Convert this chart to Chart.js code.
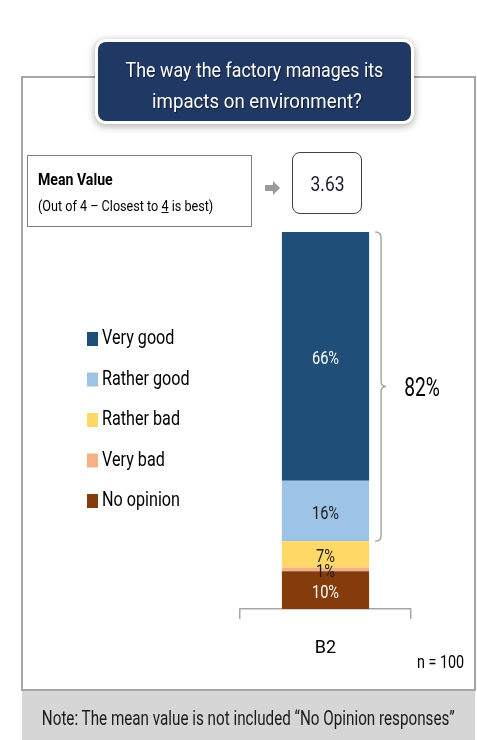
<!DOCTYPE html>
<html><head><meta charset="utf-8">
<script src="https://cdn.jsdelivr.net/npm/chart.js@4/dist/chart.umd.min.js"></script>
<style>
html,body{margin:0;padding:0;background:#fff;}
body{width:477px;height:740px;position:relative;overflow:hidden;font-family:Roboto,"Liberation Sans",sans-serif;color:#000;}
#frame{position:absolute;left:21px;top:76px;width:455px;height:615px;border:2px solid #a6a6a6;box-sizing:border-box;}
#note{position:absolute;left:22px;top:691px;width:453px;height:49px;background:#d6d6d6;}
#title{position:absolute;left:98px;top:42px;width:313px;height:79px;background:#203864;border-radius:8px;box-shadow:0 0 0 3px #fff,0 2px 7px 4px rgba(0,0,0,0.28);z-index:3;}
#mean{position:absolute;left:27px;top:155px;width:225px;height:72px;border:1.5px solid #7f7f7f;box-sizing:border-box;background:#fff;}
#arrow{position:absolute;left:265px;top:185px;width:8px;height:6px;background:#9a9a9a;}
#arrow:after{content:"";position:absolute;left:8px;top:-4px;border-left:7px solid #9a9a9a;border-top:7px solid transparent;border-bottom:7px solid transparent;}
#meanbox{position:absolute;left:292px;top:152px;width:70px;height:62px;border:1.5px solid #404040;border-radius:8px;box-sizing:border-box;background:#fff;}
.t{position:absolute;white-space:nowrap;line-height:1;display:inline-block;}
#c{position:absolute;left:0;top:0;z-index:2;}
</style></head>
<body>
<div id="frame"></div>
<div id="title"></div>
<div id="mean"></div>
<div id="arrow"></div>
<div id="meanbox"></div>
<div id="note"></div>
<div class="t" data-cx="254" data-cy="70" data-w="258" style="font-size:21px;color:#fff;z-index:4;text-shadow:1px 1px 1px rgba(0,0,0,.5)">The way the factory manages its</div>
<div class="t" data-cx="257" data-cy="101" data-w="210" style="font-size:21px;color:#fff;z-index:4;text-shadow:1px 1px 1px rgba(0,0,0,.5)">impacts on environment?</div>
<div class="t" data-lx="38" data-cy="180" data-w="75" style="font-size:16px;font-weight:bold;">Mean Value</div>
<div class="t" data-lx="38" data-cy="206" data-w="175" style="font-size:14px;">(Out of 4 – Closest to <u>4</u> is best)</div>
<div class="t" id="meanval" data-cx="327" data-cy="184" data-w="34" style="font-size:21px;color:#1a1a2a;"></div>
<div class="t" id="n" data-lx="417" data-cy="662" data-w="47" style="font-size:18px;"></div>
<div class="t" data-cx="248" data-cy="718" data-w="413" style="font-size:20px;color:#1a1a1a;z-index:4;">Note: The mean value is not included “No Opinion responses”</div>
<canvas id="c" width="477" height="740"></canvas>
<script>
// ---- data ----
const categories = ['B2'];
const seriesNames = ['No opinion', 'Very bad', 'Rather bad', 'Rather good', 'Very good'];
const noOpinion = [10];
const veryBad = [1];
const ratherBad = [7];
const ratherGood = [16];
const veryGood = [66];
const meanValue = 3.63;
const sampleSize = 100;
const yTicks = [0, 100];

// ---- style ----
const FONT = 'Roboto, "Liberation Sans", sans-serif';
const SX = 0.77; // horizontal condensation for canvas text
const seriesColors = ['#843c0c', '#f4b183', '#ffd966', '#9dc3e6', '#1f4e79'];
const labelColors = ['#ffffff', '#1a1a1a', '#1a1a1a', '#1a1a1a', '#ffffff'];

document.getElementById('meanval').textContent = meanValue.toFixed(2);
document.getElementById('n').textContent = 'n = ' + sampleSize;

// fit HTML texts (condensed look)
document.querySelectorAll('.t').forEach(el => {
  const w = el.offsetWidth, h = el.offsetHeight;
  const s = parseFloat(el.dataset.w) / w;
  const cy = parseFloat(el.dataset.cy);
  el.style.top = (cy - h / 2) + 'px';
  if (el.dataset.cx) {
    el.style.left = (parseFloat(el.dataset.cx) - w / 2) + 'px';
    el.style.transformOrigin = '50% 50%';
  } else {
    el.style.left = el.dataset.lx + 'px';
    el.style.transformOrigin = '0 50%';
  }
  el.style.transform = 'scaleX(' + s.toFixed(3) + ')';
  if (!el.style.zIndex) el.style.zIndex = 4;
});

function condText(ctx, text, x, y, size, color, align) {
  ctx.save();
  ctx.font = size + 'px ' + FONT;
  ctx.fillStyle = color;
  ctx.textBaseline = 'middle';
  ctx.textAlign = align;
  ctx.translate(x, y);
  ctx.scale(SX, 1);
  ctx.fillText(text, 0, 0);
  ctx.restore();
}

const seriesValues = [noOpinion, veryBad, ratherBad, ratherGood, veryGood];
const datasets = seriesNames.map((name, i) => ({
  label: name,
  data: seriesValues[i],
  backgroundColor: seriesColors[i],
  borderWidth: 0,
  categoryPercentage: 1,
  barPercentage: 0.51
}));

const valueLabels = {
  id: 'valueLabels',
  afterDatasetsDraw(chart) {
    const ctx = chart.ctx;
    chart.data.datasets.forEach((ds, i) => {
      const meta = chart.getDatasetMeta(i);
      meta.data.forEach((el, j) => {
        const cy = (el.y + el.base) / 2;
        condText(ctx, ds.data[j] + '%', el.x, cy + 3, 19, labelColors[i], 'center');
      });
    });
  }
};

const legendPlugin = {
  id: 'sideLegend',
  afterDraw(chart) {
    const ctx = chart.ctx;
    const items = chart.data.datasets.slice().reverse();
    items.forEach((ds, k) => {
      const y = 339 + k * 40.5;
      ctx.fillStyle = ds.backgroundColor;
      ctx.fillRect(87, y - 7, 11, 14);
      condText(ctx, ds.label, 102, y, 21, '#000', 'left');
    });
  }
};

const bracePlugin = {
  id: 'brace',
  afterDatasetsDraw(chart) {
    const ctx = chart.ctx;
    const top = chart.getDatasetMeta(4).data[0];
    const rg = chart.getDatasetMeta(3).data[0];
    const y0 = top.y, y1 = rg.base;
    const x0 = top.x + top.width / 2 + 6;
    const x1 = x0 + 6;
    const mid = (y0 + y1) / 2;
    ctx.save();
    ctx.strokeStyle = '#a6a6a6';
    ctx.lineWidth = 1.5;
    ctx.beginPath();
    ctx.moveTo(x0, y0);
    ctx.quadraticCurveTo(x1, y0, x1, y0 + 6);
    ctx.lineTo(x1, mid - 5);
    ctx.quadraticCurveTo(x1, mid, x1 + 5, mid);
    ctx.quadraticCurveTo(x1, mid, x1, mid + 5);
    ctx.lineTo(x1, y1 - 6);
    ctx.quadraticCurveTo(x1, y1, x0, y1);
    ctx.stroke();
    ctx.restore();
    condText(ctx, (veryGood[0] + ratherGood[0]) + '%', 422, mid + 3, 25, '#000', 'center');
  }
};

new Chart(document.getElementById('c'), {
  type: 'bar',
  data: { labels: categories, datasets },
  plugins: [valueLabels, legendPlugin, bracePlugin],
  options: {
    responsive: false,
    animation: false,
    devicePixelRatio: 1,
    layout: { padding: { left: 240, right: 66, top: 232, bottom: 76 } },
    plugins: { legend: { display: false }, tooltip: { enabled: false } },
    scales: {
      x: {
        stacked: true,
        afterFit(scale) { scale.height = 55; },
        grid: { offset: true, drawOnChartArea: false, drawTicks: true, tickLength: 10, color: '#a6a6a6', lineWidth: 1.5 },
        border: { display: true, color: '#a6a6a6', width: 1.5 },
        ticks: { color: '#000', font: { family: FONT, size: 18 }, padding: 19 }
      },
      y: {
        stacked: true, display: false, min: yTicks[0], max: yTicks[1]
      }
    }
  }
});
</script>
</body></html>
